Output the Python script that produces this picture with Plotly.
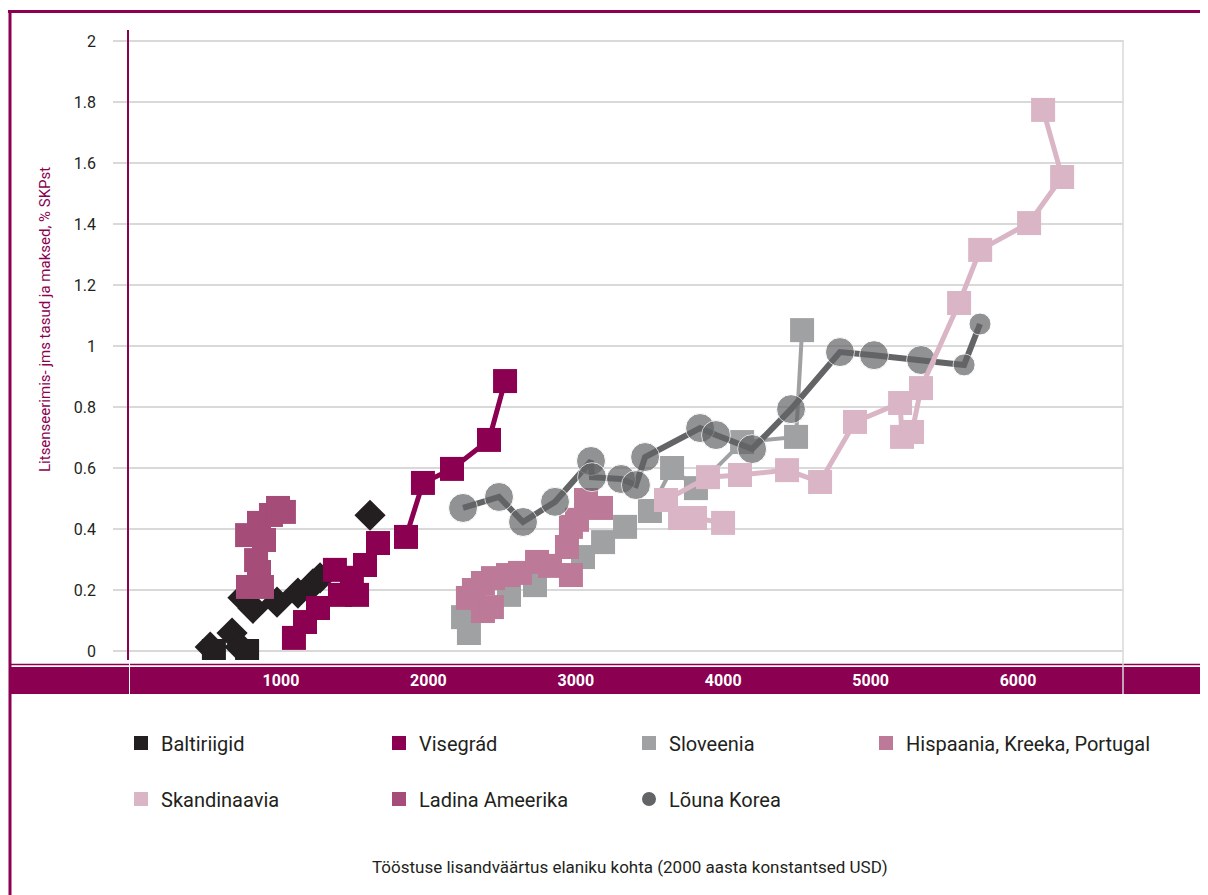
import plotly.graph_objects as go

# ---------------- data ----------------
baltic_diamond_x = [520, 668, 722, 742, 810, 973, 1115, 1217, 1265, 1604]
baltic_diamond_y = [0.013, 0.059, 0.013, 0.175, 0.14, 0.16, 0.19, 0.22, 0.24, 0.445]
baltic_square_x = [545, 770]
baltic_square_y = [0.0, 0.0]

visegrad_pts_x = [1088, 1163, 1251, 1366, 1400, 1516, 1481, 1570, 1658]
visegrad_pts_y = [0.043, 0.095, 0.141, 0.266, 0.184, 0.184, 0.24, 0.282, 0.354]
visegrad_line_x = [1848, 1963, 2160, 2411, 2520]
visegrad_line_y = [0.374, 0.551, 0.597, 0.692, 0.885]

slov_pts_x = [2235, 2275, 2547, 2723, 3049, 3185, 3334]
slov_pts_y = [0.111, 0.059, 0.184, 0.216, 0.308, 0.357, 0.407]
slov_line_x = [3503, 3653, 3815, 4128, 4494, 4535]
slov_line_y = [0.459, 0.600, 0.534, 0.685, 0.702, 1.052]

hkp_x = [2268, 2309, 2370, 2370, 2431, 2438, 2540, 2621, 2737, 2825, 2940, 2967, 2967, 3008, 3069, 3171]
hkp_y = [0.174, 0.200, 0.223, 0.131, 0.144, 0.239, 0.249, 0.256, 0.292, 0.279, 0.341, 0.249, 0.407, 0.430, 0.495, 0.469]

scan1_x = [3707, 3809, 3999]
scan1_y = [0.436, 0.436, 0.420]
scan2_x = [3612, 3897, 4114, 4433, 4657, 4894, 5200, 5213]
scan2_y = [0.495, 0.570, 0.577, 0.593, 0.554, 0.751, 0.813, 0.702]
scan3_x = [5281, 5342, 5600, 5743, 6075, 6299, 6170]
scan3_y = [0.718, 0.862, 1.141, 1.315, 1.403, 1.554, 1.774]

latam_x = [770, 851, 932, 980, 1020, 885, 831, 851, 776, 871]
latam_y = [0.380, 0.420, 0.446, 0.469, 0.456, 0.364, 0.298, 0.259, 0.210, 0.210]

korea_x = [2235, 2479, 2642, 2859, 3103, 3110, 3307, 3408, 3470, 3843, 3951, 4196, 4460, 4792, 5023, 5342, 5634, 5742]
korea_y = [0.469, 0.505, 0.423, 0.489, 0.623, 0.570, 0.564, 0.544, 0.636, 0.731, 0.708, 0.662, 0.793, 0.980, 0.970, 0.954, 0.938, 1.072]

x_ticks = [1000, 2000, 3000, 4000, 5000, 6000]
y_ticks = [0, 0.2, 0.4, 0.6, 0.8, 1, 1.2, 1.4, 1.6, 1.8, 2]

legend_names = ["Baltiriigid", "Visegrád", "Sloveenia", "Hispaania, Kreeka, Portugal",
                "Skandinaavia", "Ladina Ameerika", "Lõuna Korea"]

x_title = "Tööstuse lisandväärtus elaniku kohta (2000 aasta konstantsed USD)"
y_title = "Litsenseerimis- jms tasud ja maksed, % SKPst"

# ---------------- styles ----------------
MAG = "#8B0050"
C_BALT = "#231F20"
C_VIS = "#8B0050"
C_SLO = "#A0A1A3"
C_HKP = "#BC7A98"
C_SCA = "#D9B5C6"
C_LAT = "#A64C78"
C_KOR = "#636466"
GRID = "#D9D9D9"
FONT = "Roboto, sans-serif"

OFF = 8  # page body margin
W, H = 1200, 887
ML, MT = 121, 22
PW, PH = 994, 630
MR = W - ML - PW
MB = H - MT - PH


def pxx(px):  # reference screen x -> paper
    return (px - OFF - ML) / PW


def pxy(py):  # reference screen y -> paper
    return (MT + PH - (py - OFF)) / PH


SQ = 24
fig = go.Figure()


def add(x, y, color, symbol="square", lines=False, lw=5, size=SQ):
    fig.add_trace(go.Scatter(
        x=x, y=y, mode="lines+markers" if lines else "markers",
        line=dict(color=color, width=lw),
        marker=dict(symbol=symbol, size=size, color=color),
        showlegend=False, hoverinfo="x+y"))


add(baltic_diamond_x, baltic_diamond_y, C_BALT, symbol="diamond")
add(baltic_square_x, baltic_square_y, C_BALT)
add(latam_x, latam_y, C_LAT)
add(visegrad_pts_x, visegrad_pts_y, C_VIS)
add(visegrad_line_x, visegrad_line_y, C_VIS, lines=True, lw=5)
add(slov_pts_x, slov_pts_y, C_SLO)
add(slov_line_x, slov_line_y, C_SLO, lines=True, lw=4)
add(hkp_x, hkp_y, C_HKP)
add(korea_x, korea_y, C_KOR, symbol="circle", lines=True, lw=6,
    size=[29] * (len(korea_x) - 2) + [22, 22])
add(scan1_x, scan1_y, C_SCA, lines=True, lw=5)
add(scan2_x, scan2_y, C_SCA, lines=True, lw=5)
add(scan3_x, scan3_y, C_SCA, lines=True, lw=5)

# legend entries, each in its own legend box for exact placement
leg_cols = [C_BALT, C_VIS, C_SLO, C_HKP, C_SCA, C_LAT, C_KOR]
leg_sym = ["square"] * 6 + ["circle"]
leg_pos = [(140, 743), (398, 743), (648, 743), (885, 743),
           (140, 799), (398, 799), (648, 799)]
legends = {}
for i, (name, col, sym, (mx, my)) in enumerate(zip(legend_names, leg_cols, leg_sym, leg_pos)):
    key = "legend" if i == 0 else f"legend{i + 1}"
    fig.add_trace(go.Scatter(x=[None], y=[None], mode="markers", name=name,
                             marker=dict(symbol=sym, size=14, color=col),
                             legend=key))
    legends[key] = dict(orientation="h", xref="container", yref="container",
                        x=(mx - 19 - OFF) / W, y=1 - (my - OFF) / H,
                        xanchor="left", yanchor="middle",
                        bgcolor="rgba(0,0,0,0)",
                        font=dict(family=FONT, size=20, color=C_BALT))

shapes = [
    # outer frame
    dict(type="line", xref="paper", yref="paper", x0=pxx(8), x1=pxx(1212),
         y0=pxy(11.5), y1=pxy(11.5), line=dict(color=MAG, width=3)),
    dict(type="line", xref="paper", yref="paper", x0=pxx(10), x1=pxx(10),
         y0=pxy(10), y1=pxy(900), line=dict(color=MAG, width=3)),
    # axis band
    dict(type="rect", xref="paper", yref="paper", x0=pxx(10), x1=pxx(1212),
         y0=pxy(694), y1=pxy(667), fillcolor=MAG, line=dict(width=0), layer="below"),
    dict(type="line", xref="paper", yref="paper", x0=pxx(10), x1=pxx(1212),
         y0=pxy(664.5), y1=pxy(664.5), line=dict(color=MAG, width=1.5), layer="below"),
    dict(type="line", xref="paper", yref="paper", x0=pxx(129.5), x1=pxx(129.5),
         y0=pxy(660), y1=pxy(694), line=dict(color="white", width=1), layer="below"),
    dict(type="line", xref="paper", yref="paper", x0=pxx(1123), x1=pxx(1123),
         y0=pxy(40), y1=pxy(694), line=dict(color=GRID, width=1.5), layer="below"),
]

annotations = [
    dict(text=y_title, xref="paper", yref="paper", x=pxx(45), y=pxy(320),
         textangle=-90, showarrow=False, xanchor="center", yanchor="middle",
         font=dict(family=FONT, size=15, color=MAG)),
    dict(text=x_title, xref="paper", yref="paper", x=pxx(630), y=pxy(867),
         showarrow=False, xanchor="center", yanchor="middle",
         font=dict(family=FONT, size=17, color=C_BALT)),
]

fig.update_layout(
    width=W, height=H,
    margin=dict(l=ML, r=MR, t=MT, b=MB),
    paper_bgcolor="white", plot_bgcolor="white",
    font=dict(family=FONT, color=C_BALT),
    xaxis=dict(range=[-31, 6712], tickvals=x_ticks, showgrid=False, zeroline=False,
               showline=False, ticks="", ticklabelstandoff=9,
               tickfont=dict(family=FONT, size=16, color="white", weight="bold")),
    yaxis=dict(range=[-0.0295, 2.036], tickvals=y_ticks, showgrid=True,
               gridcolor=GRID, gridwidth=1.5, zeroline=False,
               showline=True, linecolor=MAG, linewidth=1.5,
               ticks="outside", ticklen=14, tickcolor=GRID, tickwidth=1.5,
               ticklabelstandoff=14,
               tickfont=dict(family=FONT, size=16, color=C_BALT)),
    shapes=shapes, annotations=annotations,
    **legends,
)

fig.write_html("out.html")
